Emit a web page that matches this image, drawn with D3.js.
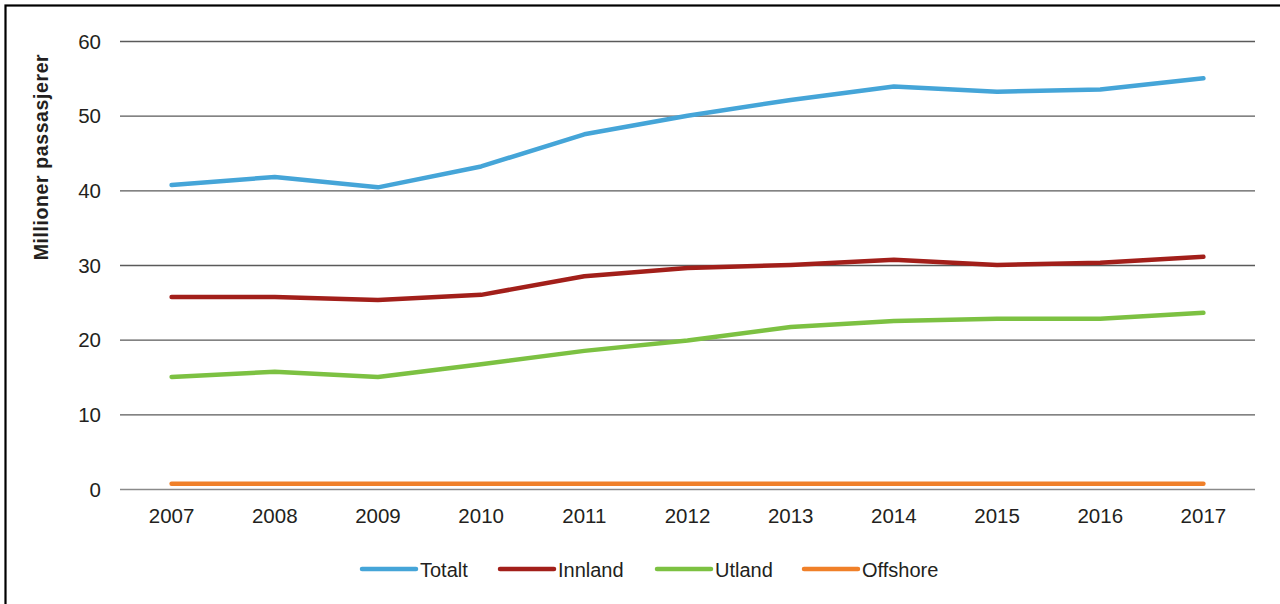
<!DOCTYPE html>
<html>
<head>
<meta charset="utf-8">
<script src="https://cdn.jsdelivr.net/npm/d3@7"></script>
<style>
  body { margin: 0; background: #fff; }
  svg { display: block; font-family: "Liberation Sans", Arial, sans-serif; }
</style>
</head>
<body>
<div id="container"></div>
<script>
// data (millions of passengers)
var years = ['2007','2008','2009','2010','2011','2012','2013','2014','2015','2016','2017'];
var totalt   = [40.7, 41.8, 40.4, 43.2, 47.5, 50.0, 52.1, 53.9, 53.2, 53.5, 55.0];
var innland  = [25.7, 25.7, 25.3, 26.0, 28.5, 29.6, 30.0, 30.7, 30.0, 30.3, 31.1];
var utland   = [15.0, 15.7, 15.0, 16.7, 18.5, 19.9, 21.7, 22.5, 22.8, 22.8, 23.6];
var offshore = [0.7, 0.7, 0.7, 0.7, 0.7, 0.7, 0.7, 0.7, 0.7, 0.7, 0.7];
var seriesNames = ['Totalt', 'Innland', 'Utland', 'Offshore'];
var yTicks = [0, 10, 20, 30, 40, 50, 60];

var colors = {Totalt: '#45a5d8', Innland: '#a21f1a', Utland: '#7cc142', Offshore: '#f08029'};
var allSeries = [
  {name: 'Totalt', values: totalt},
  {name: 'Innland', values: innland},
  {name: 'Utland', values: utland},
  {name: 'Offshore', values: offshore}
];

var w = 1280, h = 604;
var margin = {left: 120, right: 25};

var svg = d3.select('#container').append('svg')
    .attr('width', w).attr('height', h);

// frame round the picture
svg.append('rect')
   .attr('x', 5.5).attr('y', 5.5)
   .attr('width', w + 10).attr('height', h + 10)
   .attr('fill', 'none').attr('stroke', '#000').attr('stroke-width', 2.2);

var x = d3.scalePoint().domain(years)
    .range([margin.left, w - margin.right]).padding(0.5);
var y = d3.scaleLinear().domain([0, 60]).range([489, 41]);

// gridlines
svg.append('g').selectAll('line')
   .data(yTicks).enter().append('line')
   .attr('x1', margin.left).attr('x2', w - margin.right)
   .attr('y1', d => y(d) + 0.5).attr('y2', d => y(d) + 0.5)
   .attr('stroke', d => d === 0 ? '#8a8a8a' : '#5a5a5a')
   .attr('stroke-width', 1.3);

// y tick labels
svg.append('g').selectAll('text')
   .data(yTicks).enter().append('text')
   .attr('x', 101).attr('y', d => y(d) + 7.5)
   .attr('text-anchor', 'end')
   .attr('font-size', 20.5).attr('fill', '#231f20')
   .text(d => d);

// x tick labels
svg.append('g').selectAll('text')
   .data(years).enter().append('text')
   .attr('x', d => x(d)).attr('y', 522.5)
   .attr('text-anchor', 'middle')
   .attr('font-size', 20.5).attr('fill', '#231f20')
   .text(d => d);

// y axis title
svg.append('text')
   .attr('transform', 'translate(48,157) rotate(-90)')
   .attr('text-anchor', 'middle')
   .attr('font-size', 19.5).attr('font-weight', 'bold').attr('fill', '#231f20')
   .attr('letter-spacing', 0.6)
   .text('Millioner passasjerer');

// lines
var line = d3.line()
    .x((d, i) => x(years[i]))
    .y(d => y(d));

svg.append('g').selectAll('path')
   .data(allSeries).enter().append('path')
   .attr('d', d => line(d.values))
   .attr('fill', 'none')
   .attr('stroke', d => colors[d.name])
   .attr('stroke-width', 4.5)
   .attr('stroke-linecap', 'round')
   .attr('stroke-linejoin', 'round');

// legend
var legendX = [362, 500, 657, 804];
var legend = svg.append('g').selectAll('g')
    .data(seriesNames).enter().append('g')
    .attr('transform', (d, i) => 'translate(' + legendX[i] + ',569)');
legend.append('line')
    .attr('x1', 0).attr('x2', 54).attr('y1', 0).attr('y2', 0)
    .attr('stroke', d => colors[d]).attr('stroke-width', 4.5)
    .attr('stroke-linecap', 'round');
legend.append('text')
    .attr('x', 58).attr('y', 8)
    .attr('font-size', 20).attr('fill', '#231f20')
    .text(d => d);
</script>
</body>
</html>
